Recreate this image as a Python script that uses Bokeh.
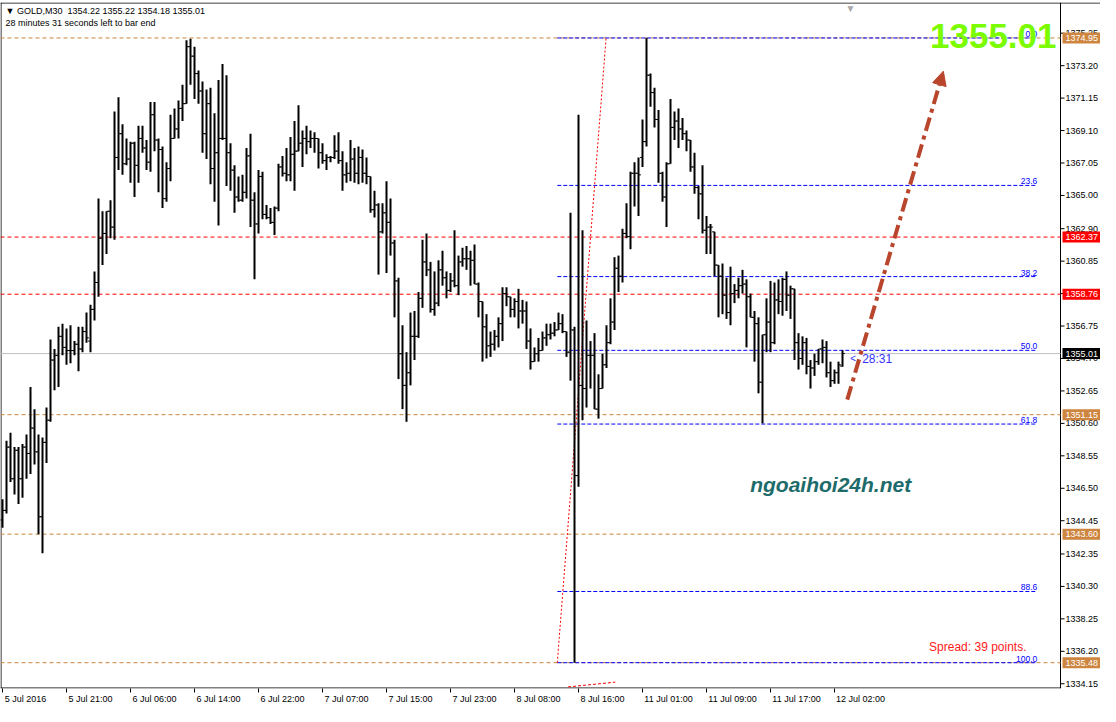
from bokeh.plotting import figure
from bokeh.models import Label, Arrow, NormalHead, FixedTicker
from bokeh.core.properties import value
from bokeh.embed import file_html
from bokeh.resources import INLINE

# ---------------- data (GOLD, M30) ----------------
opens = [1344.5, 1345.1, 1349.1, 1347.1, 1348.9, 1347.1, 1349.1, 1348.7, 1350.3, 1348.8,
         1344.7, 1349.4, 1350.8, 1354.6, 1354.9, 1356.1, 1355.4, 1355.2, 1355.2, 1355.6,
         1355.3, 1356.4, 1355.8, 1357.8, 1359.5, 1362.3, 1362.6, 1364.0, 1363.0, 1367.4,
         1368.9, 1367.0, 1367.3, 1368.3, 1366.9, 1368.6, 1368.0, 1367.1, 1370.1, 1368.5,
         1367.9, 1364.8, 1366.7, 1368.6, 1369.2, 1370.5, 1370.8, 1374.4, 1373.8, 1372.7,
         1371.6, 1368.9, 1370.8, 1366.7, 1367.7, 1368.6, 1368.6, 1367.7, 1366.6, 1364.9,
         1364.7, 1365.2, 1367.5, 1364.7, 1363.2, 1366.2, 1363.8, 1363.6, 1363.3, 1364.2,
         1366.8, 1366.4, 1366.3, 1367.6, 1367.8, 1368.3, 1368.6, 1368.4, 1368.6, 1368.6,
         1367.7, 1367.2, 1367.4, 1367.4, 1367.8, 1367.2, 1366.3, 1366.4, 1367.3, 1366.4,
         1367.4, 1366.4, 1366.2, 1364.1, 1364.4, 1362.7, 1363.9, 1363.3, 1362.0, 1359.6,
         1355.0, 1353.0, 1353.8, 1356.1, 1356.1, 1358.5, 1360.8, 1360.3, 1357.8, 1358.2,
         1360.3, 1359.8, 1359.0, 1359.6, 1359.3, 1360.8, 1361.0, 1361.0, 1360.9, 1359.4,
         1358.3, 1356.7, 1355.5, 1355.6, 1356.1, 1356.9, 1358.8, 1358.6, 1357.8, 1358.3,
         1357.7, 1357.7, 1355.8, 1354.5, 1355.0, 1355.2, 1356.0, 1356.2, 1356.3, 1356.5,
         1356.9, 1356.4, 1355.1, 1356.5, 1347.3, 1353.0, 1352.8, 1354.9, 1354.9, 1351.5,
         1352.8, 1354.3, 1355.7, 1357.0, 1360.4, 1359.9, 1362.6, 1362.4, 1366.4, 1366.4,
         1367.4, 1368.4, 1372.6, 1371.5, 1369.8, 1366.4, 1364.9, 1367.0, 1369.3, 1369.7,
         1369.2, 1368.9, 1368.5, 1366.8, 1365.5, 1365.1, 1362.8, 1363.0, 1362.7, 1360.6,
         1359.9, 1358.7, 1357.6, 1358.8, 1359.0, 1359.3, 1359.4, 1358.6, 1357.3, 1356.9,
         1353.2, 1356.2, 1357.0, 1355.7, 1358.4, 1358.3, 1359.7, 1358.7, 1359.1, 1355.7,
         1354.7, 1355.7, 1354.2, 1354.1, 1354.5, 1355.3, 1355.4, 1353.8, 1353.3, 1353.8,
         1354.22]
highs = [1345.8, 1349.5, 1350.0, 1349.1, 1349.1, 1349.3, 1349.9, 1352.9, 1351.5, 1349.9,
         1349.7, 1351.6, 1355.9, 1355.3, 1356.7, 1356.9, 1356.6, 1356.8, 1355.8, 1356.7,
         1356.7, 1357.6, 1358.1, 1360.2, 1364.8, 1364.0, 1364.0, 1364.7, 1370.3, 1371.2,
         1369.5, 1368.6, 1368.4, 1368.4, 1369.4, 1369.4, 1368.5, 1370.9, 1370.9, 1368.6,
         1368.1, 1367.1, 1370.1, 1370.5, 1371.0, 1372.0, 1374.8, 1374.9, 1374.4, 1372.9,
         1372.2, 1371.7, 1371.8, 1370.2, 1372.3, 1373.3, 1372.6, 1368.3, 1366.9, 1366.2,
         1366.3, 1368.0, 1368.9, 1365.2, 1366.6, 1366.5, 1364.4, 1364.2, 1364.3, 1367.0,
         1367.5, 1368.0, 1368.7, 1369.7, 1370.7, 1369.1, 1369.4, 1369.1, 1369.0, 1368.6,
         1368.3, 1367.6, 1367.5, 1368.8, 1369.0, 1367.8, 1367.1, 1368.5, 1368.0, 1368.1,
         1367.9, 1367.4, 1366.2, 1365.3, 1364.5, 1364.5, 1365.9, 1364.8, 1362.2, 1359.8,
         1356.8, 1355.1, 1357.6, 1357.7, 1358.9, 1362.2, 1362.6, 1360.8, 1360.2, 1360.9,
         1361.5, 1360.2, 1360.1, 1362.8, 1361.2, 1361.7, 1361.8, 1361.5, 1361.9, 1359.5,
         1358.3, 1357.5, 1356.4, 1356.5, 1357.3, 1359.2, 1359.2, 1358.6, 1358.5, 1359.1,
         1358.4, 1358.3, 1356.6, 1355.4, 1356.0, 1356.4, 1356.9, 1356.9, 1357.0, 1357.6,
         1357.5, 1356.4, 1363.9, 1356.7, 1370.1, 1362.8, 1357.1, 1355.8, 1356.3, 1353.7,
         1355.0, 1356.8, 1358.5, 1361.1, 1361.2, 1362.9, 1364.5, 1366.5, 1367.1, 1367.4,
         1369.8, 1374.95, 1372.7, 1371.8, 1370.4, 1366.5, 1367.1, 1371.1, 1370.3, 1370.5,
         1369.9, 1369.1, 1368.5, 1367.7, 1365.6, 1366.9, 1363.7, 1363.2, 1362.7, 1360.6,
         1360.7, 1359.8, 1360.5, 1359.4, 1359.8, 1360.3, 1359.7, 1358.8, 1357.7, 1357.3,
         1356.2, 1358.5, 1359.6, 1359.5, 1359.7, 1359.8, 1360.2, 1359.3, 1359.1, 1356.3,
         1356.1, 1356.0, 1354.6, 1355.0, 1355.3, 1355.9, 1355.8, 1354.5, 1354.0, 1354.5,
         1355.22]
lows = [1344.0, 1344.9, 1346.9, 1346.1, 1345.5, 1345.9, 1347.1, 1347.4, 1348.0, 1343.6,
        1342.4, 1348.1, 1350.7, 1352.7, 1352.9, 1354.9, 1354.3, 1354.4, 1354.9, 1353.9,
        1355.1, 1355.7, 1355.1, 1357.1, 1358.6, 1360.6, 1361.3, 1362.3, 1362.2, 1366.6,
        1366.3, 1366.9, 1365.8, 1364.9, 1365.8, 1367.7, 1366.6, 1366.5, 1367.8, 1365.2,
        1364.2, 1364.6, 1365.9, 1368.6, 1368.6, 1369.7, 1370.8, 1372.0, 1371.1, 1370.8,
        1367.7, 1367.3, 1365.7, 1364.6, 1363.1, 1368.5, 1365.6, 1365.3, 1363.9, 1364.6,
        1364.6, 1364.8, 1363.0, 1359.7, 1362.6, 1363.5, 1363.5, 1363.2, 1362.5, 1364.0,
        1366.2, 1365.9, 1365.9, 1365.3, 1367.8, 1366.8, 1367.6, 1368.0, 1367.7, 1366.7,
        1367.0, 1366.6, 1367.1, 1367.3, 1367.0, 1365.3, 1365.8, 1365.9, 1365.8, 1365.7,
        1365.8, 1365.7, 1363.9, 1363.6, 1360.0, 1362.6, 1360.1, 1361.2, 1357.3, 1353.4,
        1351.5, 1350.7, 1353.0, 1354.6, 1356.0, 1357.9, 1359.9, 1357.6, 1357.4, 1358.0,
        1359.3, 1358.5, 1358.9, 1359.2, 1358.7, 1360.5, 1360.3, 1359.3, 1359.4, 1357.3,
        1354.5, 1354.7, 1354.8, 1355.2, 1355.4, 1355.8, 1358.0, 1357.3, 1357.3, 1356.6,
        1356.9, 1355.3, 1354.0, 1354.5, 1354.5, 1355.2, 1355.5, 1355.9, 1356.1, 1356.5,
        1356.3, 1354.8, 1353.3, 1335.48, 1346.6, 1350.8, 1351.6, 1352.8, 1351.5, 1350.9,
        1352.8, 1354.1, 1355.6, 1356.5, 1358.9, 1359.5, 1362.3, 1361.6, 1364.3, 1363.7,
        1366.8, 1368.1, 1370.6, 1369.3, 1365.8, 1364.6, 1363.0, 1367.0, 1368.5, 1368.0,
        1368.5, 1367.8, 1366.5, 1365.1, 1363.5, 1362.6, 1361.3, 1361.3, 1359.9, 1357.3,
        1357.5, 1357.2, 1356.8, 1358.2, 1358.5, 1358.8, 1355.4, 1357.3, 1354.5, 1352.5,
        1350.6, 1355.1, 1355.1, 1355.6, 1357.5, 1357.4, 1357.7, 1357.2, 1354.6, 1354.0,
        1354.3, 1353.7, 1352.8, 1353.6, 1354.3, 1354.4, 1353.5, 1352.9, 1353.1, 1353.1,
        1354.18]
closes = [1345.1, 1349.1, 1347.1, 1348.9, 1347.1, 1349.1, 1348.7, 1350.3, 1348.8, 1344.7,
          1349.4, 1350.8, 1354.6, 1354.9, 1356.1, 1355.4, 1355.2, 1355.2, 1355.6, 1355.3,
          1356.4, 1356.0, 1357.8, 1359.5, 1362.3, 1362.6, 1364.0, 1363.0, 1367.4, 1368.9,
          1367.0, 1367.3, 1368.3, 1366.9, 1368.6, 1368.0, 1367.1, 1370.1, 1368.5, 1367.9,
          1364.8, 1366.7, 1368.6, 1369.2, 1370.5, 1370.8, 1374.4, 1373.8, 1372.7, 1371.6,
          1368.9, 1370.8, 1366.7, 1367.7, 1368.6, 1368.6, 1367.7, 1366.6, 1364.9, 1364.7,
          1365.2, 1367.5, 1364.7, 1363.2, 1366.2, 1363.8, 1363.6, 1363.3, 1364.2, 1366.8,
          1366.4, 1366.3, 1367.6, 1367.8, 1368.3, 1368.6, 1368.4, 1368.6, 1368.6, 1367.7,
          1367.2, 1367.4, 1367.4, 1367.8, 1367.2, 1366.3, 1366.4, 1367.3, 1366.4, 1367.4,
          1366.4, 1366.2, 1364.1, 1364.4, 1362.7, 1363.9, 1363.3, 1362.0, 1359.6, 1355.0,
          1353.0, 1353.8, 1356.1, 1356.1, 1358.5, 1360.8, 1360.3, 1357.8, 1358.2, 1360.3,
          1359.8, 1359.0, 1359.6, 1359.3, 1360.8, 1361.0, 1361.0, 1360.9, 1359.4, 1358.3,
          1356.7, 1355.5, 1355.6, 1356.1, 1356.9, 1358.8, 1358.6, 1357.8, 1358.3, 1357.7,
          1357.7, 1355.8, 1354.5, 1355.0, 1355.2, 1356.0, 1356.2, 1356.3, 1356.5, 1356.9,
          1356.4, 1355.1, 1356.5, 1347.3, 1353.0, 1352.8, 1354.9, 1354.9, 1351.5, 1352.8,
          1354.3, 1355.7, 1357.0, 1360.4, 1359.9, 1362.6, 1362.4, 1366.4, 1366.4, 1366.3,
          1368.4, 1372.6, 1371.5, 1369.8, 1366.4, 1364.9, 1367.0, 1369.3, 1369.7, 1369.2,
          1368.9, 1368.5, 1366.8, 1365.5, 1365.1, 1362.8, 1363.0, 1363.0, 1360.6, 1359.9,
          1358.7, 1357.6, 1358.8, 1359.0, 1359.3, 1359.4, 1358.6, 1357.3, 1356.9, 1353.2,
          1356.2, 1357.0, 1355.7, 1358.4, 1358.3, 1359.7, 1358.7, 1359.1, 1355.7, 1354.7,
          1355.7, 1354.2, 1354.1, 1354.5, 1355.3, 1355.4, 1353.8, 1353.3, 1353.8, 1354.3,
          1355.01]

time_labels = ["5 Jul 2016", "5 Jul 21:00", "6 Jul 06:00", "6 Jul 14:00", "6 Jul 22:00",
               "7 Jul 07:00", "7 Jul 15:00", "7 Jul 23:00", "8 Jul 08:00", "8 Jul 16:00",
               "11 Jul 01:00", "11 Jul 09:00", "11 Jul 17:00", "12 Jul 02:00"]
time_label_bars = [0, 16, 32, 48, 64, 80, 96, 112, 128, 144, 160, 176, 192, 208]

price_ticks = [1334.15, 1336.20, 1338.25, 1340.30, 1342.35, 1344.45, 1346.50, 1348.55,
               1350.60, 1352.65, 1354.70, 1356.75, 1358.80, 1360.85, 1362.90, 1365.00,
               1367.05, 1369.10, 1371.15, 1373.20, 1375.25]

marked_prices = [1374.95, 1362.37, 1358.76, 1351.15, 1343.60, 1335.48]
marked_kind = ["orange", "red", "red", "orange", "orange", "orange"]
bid_price = 1355.01

fib_levels = [0.0, 23.6, 38.2, 50.0, 61.8, 88.6, 100.0]
fib_high = 1374.95
fib_low = 1335.48
fib_bars = [138.7, 258.7]          # start / end of the fibo object (bar units)
fib_trend_bars = [138.7, 150.9]    # red dotted anchor line
red_low_bars = [141.4, 153.2]
red_low_prices = [1333.95, 1334.25]

arrow_bars = [211.2, 235.2]
arrow_prices = [1352.1, 1372.85]

header_text = "\u25bc\u00a0GOLD,M30\u00a0\u00a01354.22\u00a01355.22\u00a01354.18\u00a01355.01"
timer_text = "28 minutes 31 seconds left to bar end"
big_price_text = "1355.01"
site_text = "ngoaihoi24h.net"
spread_text = "Spread: 39 points."
countdown_text = "28:31"

# ---------------- geometry ----------------
W, H = 1100, 706
BT, BB = 2, 14
FH = H - BT - BB
PXB = 4.0                      # pixels per bar
X0 = -0.5
XE = X0 + W / PXB
Y0, Y1 = 1333.85, 1377.19
PPU = FH / (Y1 - Y0)           # pixels per price unit
AXPX = 1060                    # x pixel of the price scale line

def xpx(px):
    return X0 + px / PXB

def ref_y(py):                 # price at a pixel row of the original chart
    return 1374.95 - (py - 39) / 16.09

AX = xpx(AXPX)
FONT = "Liberation Sans"
ORANGE = "#CD853F"
RED = "#FF0000"

p = figure(width=W, height=H, x_range=(X0, XE), y_range=(Y0, Y1),
           output_backend="svg", toolbar_location=None, y_axis_location=None,
           title=None, min_border_left=0, min_border_top=BT,
           min_border_right=0, min_border_bottom=BB)
p.background_fill_color = "white"
p.border_fill_color = "white"
p.outline_line_color = None
p.xgrid.visible = False
p.ygrid.visible = False

# x axis: labels left-aligned after their tick (MT4 style)
cw = {" ": 2.5, "J": 4.5, "u": 5.0, "l": 2.0, ":": 2.5}
centers = []
overrides = {}
for b, t in zip(time_label_bars, time_labels):
    w = sum(cw.get(ch, 5.0) for ch in t)
    c = round((b + (2.0 + w / 2) / PXB) * 4) / 4
    if c == int(c):
        c = int(c)
    centers.append(c)
    overrides[c] = t
xa = p.xaxis[0]
xa.ticker = FixedTicker(ticks=centers, minor_ticks=time_label_bars)
xa.major_label_overrides = overrides
xa.major_tick_out = 0
xa.major_tick_in = 0
xa.minor_tick_out = 4
xa.minor_tick_in = 0
xa.minor_tick_line_color = "black"
xa.axis_line_color = None
xa.major_label_standoff = 1
xa.major_label_text_font = FONT
xa.major_label_text_font_size = "9px"
xa.major_label_text_color = "black"

# chart borders and price scale line
bw = 1.0 / PXB
p.segment(x0=[X0 + 0.5 * bw, X0, AX, X0], y0=[Y0, Y1 - 0.5 / PPU, Y0, Y0 + 0.5 / PPU],
          x1=[X0 + 0.5 * bw, XE, AX, AX], y1=[Y1, Y1 - 0.5 / PPU, Y1, Y0 + 0.5 / PPU],
          line_color="black", line_width=1)

# horizontal level lines
for pr, kind in zip(marked_prices, marked_kind):
    p.segment(x0=[X0], y0=[pr], x1=[AX], y1=[pr],
              line_color=ORANGE if kind == "orange" else RED, line_dash="4 3", line_width=1)
p.segment(x0=[X0], y0=[bid_price], x1=[AX], y1=[bid_price], line_color="#C0C0C0", line_width=1)

# fibonacci levels
fib_prices = [fib_high - lv / 100.0 * (fib_high - fib_low) for lv in fib_levels]
p.segment(x0=[fib_bars[0]] * len(fib_prices), y0=fib_prices,
          x1=[fib_bars[1]] * len(fib_prices), y1=fib_prices,
          line_color="#0000FF", line_dash="4 2", line_width=1)
p.text(x=[fib_bars[1]] * len(fib_prices), y=[v + 1.0 / PPU for v in fib_prices],
       text=[f"{lv:.1f}" for lv in fib_levels], text_color="#0000FF",
       text_font=value(FONT), text_font_size="8.5px", text_align="right",
       text_baseline="bottom")
p.line(x=fib_trend_bars, y=[fib_low, fib_high], line_color=RED, line_dash="2 2", line_width=1)
p.line(x=red_low_bars, y=red_low_prices, line_color=RED, line_dash="3 2", line_width=1)

# OHLC bars
idx = list(range(len(closes)))
p.segment(x0=idx, y0=lows, x1=idx, y1=highs, line_color="black", line_width=2)
p.segment(x0=[i - 0.6 for i in idx], y0=opens, x1=idx, y1=opens, line_color="black", line_width=1)
p.segment(x0=idx, y0=closes, x1=[i + 0.6 for i in idx], y1=closes, line_color="black", line_width=1)

# arrow
brown = "#B8452C"
p.add_layout(Arrow(end=NormalHead(size=14, fill_color=brown, line_color=brown),
                   x_start=arrow_bars[0], y_start=arrow_prices[0],
                   x_end=arrow_bars[1], y_end=arrow_prices[1],
                   line_color=brown, line_width=4, line_dash="14 5 4 5"))

# right price scale (drawn inside the canvas)
p.segment(x0=[AX] * len(price_ticks), y0=price_ticks,
          x1=[AX + 4 * bw] * len(price_ticks), y1=price_ticks, line_color="black", line_width=1)
p.text(x=[AX + 5 * bw] * len(price_ticks), y=price_ticks,
       text=[f"{v:.2f}" for v in price_ticks], text_color="black",
       text_font=value(FONT), text_font_size="9px", text_align="left", text_baseline="middle")

box_prices = marked_prices + [bid_price]
box_colors = [ORANGE if k == "orange" else RED for k in marked_kind] + ["black"]
hb = 5.5 / PPU
p.quad(left=[AX + 2 * bw] * len(box_prices), right=[XE] * len(box_prices),
       bottom=[v - hb for v in box_prices], top=[v + hb for v in box_prices],
       fill_color=box_colors, line_color=None)
p.text(x=[AX + 5 * bw] * len(box_prices), y=box_prices,
       text=[f"{v:.2f}" for v in box_prices], text_color="white",
       text_font=value(FONT), text_font_size="9px", text_align="left", text_baseline="middle")

# texts
p.add_layout(Label(x=xpx(5), y=ref_y(11.7), text=header_text, text_font=FONT,
                   text_font_size="9px", text_color="black", text_baseline="middle"))
p.add_layout(Label(x=xpx(5), y=ref_y(24.3), text=timer_text, text_font=FONT,
                   text_font_size="9px", text_color="black", text_baseline="middle"))
p.add_layout(Label(x=xpx(AXPX - 4), y=ref_y(37), text=big_price_text, text_font=FONT,
                   text_font_size="35px", text_font_style="bold", text_color="#7CFC00",
                   text_align="right", text_baseline="alphabetic"))
p.add_layout(Label(x=(750 - 2.33) / PXB, y=ref_y(493), text=site_text, text_font=FONT,
                   text_font_size="21px", text_font_style="bold italic", text_color="#1D6B6B",
                   text_baseline="middle"))
p.add_layout(Label(x=xpx(AXPX - 34), y=ref_y(658), text=spread_text, text_font=FONT,
                   text_font_size="12px", text_color="#FF1A1A", text_align="right",
                   text_baseline="middle"))
p.add_layout(Label(x=(850 - 2.33) / PXB, y=ref_y(365), text="<", text_font=FONT,
                   text_font_size="10px", text_color="#3333FF", text_baseline="middle"))
p.add_layout(Label(x=(862 - 2.33) / PXB, y=ref_y(365), text=countdown_text, text_font=FONT,
                   text_font_size="12px", text_color="#3333FF", text_baseline="middle"))
p.add_layout(Label(x=xpx(850), y=ref_y(9), text="\u25bc", text_font=FONT,
                   text_font_size="10px", text_color="#A8A8A8", text_align="center",
                   text_baseline="middle"))

open("out.html", "w").write(file_html(p, INLINE))
